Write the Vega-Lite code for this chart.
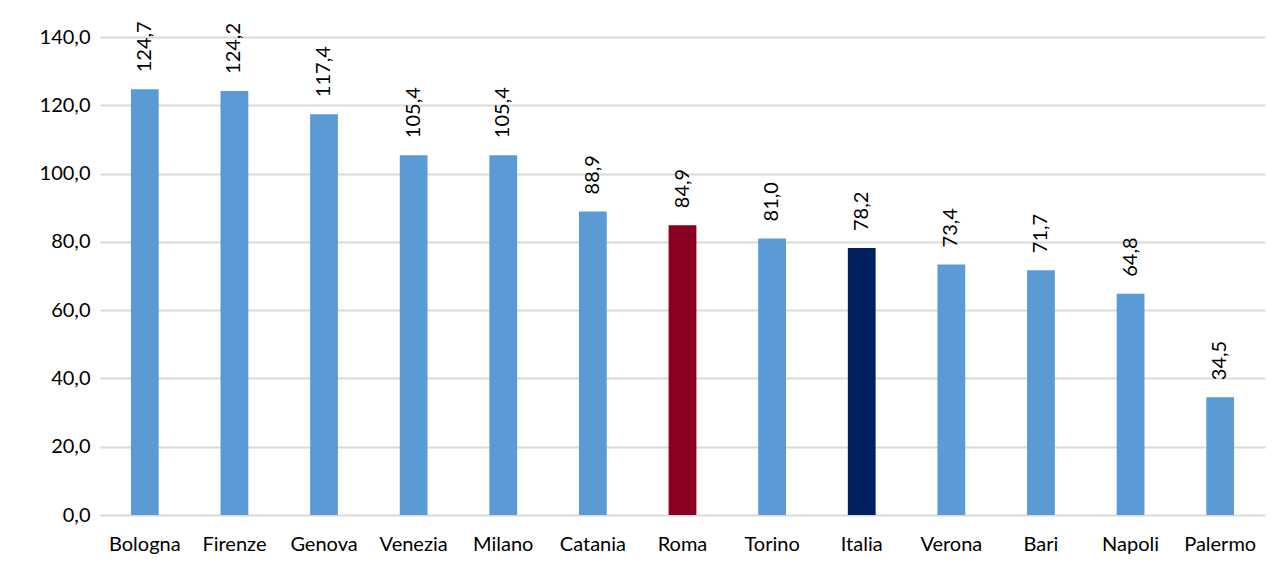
{
  "$schema": "https://vega.github.io/schema/vega-lite/v6.json",
  "autosize": "none",
  "width": 1165,
  "height": 478,
  "padding": {"left": 100, "top": 37, "right": 19, "bottom": 53},
  "background": "white",
  "config": {
    "locale": {"number": {"decimal": ",", "thousands": ".", "grouping": [3], "currency": ["", " €"]}},
    "view": {"stroke": null},
    "font": "Lato"
  },
  "data": {
    "values": [
      {"citta": "Bologna", "valore": 124.7, "gruppo": "città"},
      {"citta": "Firenze", "valore": 124.2, "gruppo": "città"},
      {"citta": "Genova", "valore": 117.4, "gruppo": "città"},
      {"citta": "Venezia", "valore": 105.4, "gruppo": "città"},
      {"citta": "Milano", "valore": 105.4, "gruppo": "città"},
      {"citta": "Catania", "valore": 88.9, "gruppo": "città"},
      {"citta": "Roma", "valore": 84.9, "gruppo": "Roma"},
      {"citta": "Torino", "valore": 81.0, "gruppo": "città"},
      {"citta": "Italia", "valore": 78.2, "gruppo": "Italia"},
      {"citta": "Verona", "valore": 73.4, "gruppo": "città"},
      {"citta": "Bari", "valore": 71.7, "gruppo": "città"},
      {"citta": "Napoli", "valore": 64.8, "gruppo": "città"},
      {"citta": "Palermo", "valore": 34.5, "gruppo": "città"}
    ]
  },
  "encoding": {
    "x": {
      "field": "citta",
      "type": "nominal",
      "sort": null,
      "scale": {"paddingInner": 0.69, "paddingOuter": 0.345},
      "axis": {
        "title": null,
        "labelAngle": 0,
        "labelFontSize": 20,
        "labelColor": "#000000",
        "labelPadding": 19,
        "ticks": false,
        "domain": false
      }
    },
    "y": {
      "field": "valore",
      "type": "quantitative",
      "scale": {"domain": [0, 140], "nice": false},
      "axis": {
        "title": null,
        "values": [0, 20, 40, 60, 80, 100, 120, 140],
        "format": ".1f",
        "labelFontSize": 20,
        "labelColor": "#000000",
        "labelPadding": 10,
        "ticks": false,
        "domain": false,
        "grid": true,
        "gridColor": "#D9D9D9",
        "gridWidth": 2
      }
    }
  },
  "layer": [
    {
      "mark": {"type": "bar"},
      "encoding": {
        "color": {
          "field": "gruppo",
          "type": "nominal",
          "scale": {"domain": ["città", "Roma", "Italia"], "range": ["#5B9BD5", "#8B0021", "#002060"]},
          "legend": null
        }
      }
    },
    {
      "mark": {"type": "text", "angle": 270, "align": "left", "baseline": "middle", "dx": 17, "fontSize": 20, "color": "#000000"},
      "encoding": {
        "text": {"field": "valore", "type": "quantitative", "format": ".1f"}
      }
    }
  ]
}
